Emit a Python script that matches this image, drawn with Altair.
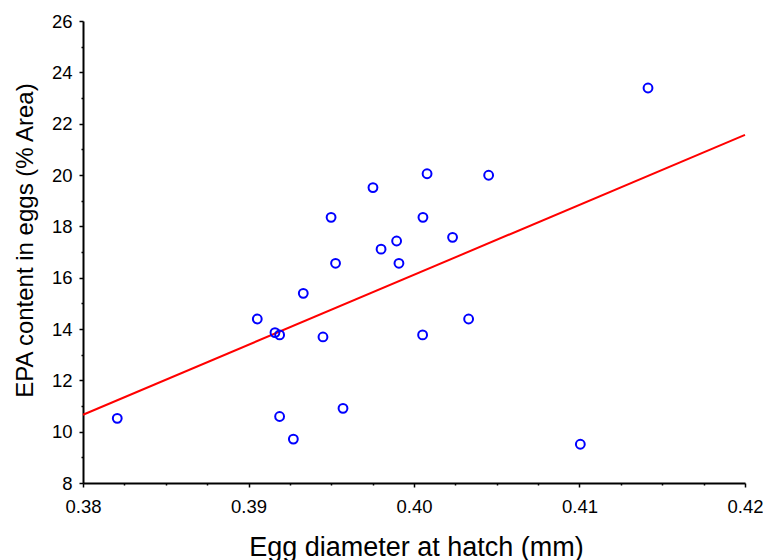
import altair as alt
import pandas as pd

# Egg diameter at hatch (mm)
diameter = [0.38207, 0.39053, 0.39160, 0.39188, 0.39188, 0.39271, 0.39331, 0.39450,
            0.39571, 0.39526, 0.39499, 0.39752, 0.39801, 0.39895, 0.39909, 0.40054,
            0.40079, 0.40451, 0.40233, 0.41414, 0.40052, 0.40330, 0.41005]
# EPA content in eggs (% Area)
epa = [10.52, 14.39, 13.86, 13.77, 10.59, 9.71, 15.39, 13.69,
       10.91, 16.56, 18.35, 19.51, 17.11, 17.43, 16.56, 18.35,
       20.05, 19.99, 17.57, 23.39, 13.77, 14.39, 9.51]

x_ticks = [0.38, 0.3825, 0.385, 0.3875, 0.39, 0.3925, 0.395, 0.3975, 0.40,
           0.4025, 0.405, 0.4075, 0.41, 0.4125, 0.415, 0.4175, 0.42]
y_ticks = [8, 9, 10, 11, 12, 13, 14, 15, 16, 17, 18, 19, 20, 21, 22, 23, 24, 25, 26]

df = pd.DataFrame({"diameter": diameter, "epa": epa})

FONT = "Liberation Sans"
x_major = "abs(datum.value*100 - round(datum.value*100)) < 0.001"
y_major = "datum.value % 2 == 0"

x_axis = alt.Axis(
    values=x_ticks,
    labelExpr=f"{x_major} ? format(datum.value, '.2f') : ''",
    tickSize={"condition": {"test": x_major, "value": 4}, "value": 2},
    tickColor="black", tickWidth=1.5,
    domainColor="black", domainWidth=2,
    grid=False, labelFlush=False, labelOverlap=False,
    labelFont=FONT, labelFontSize=18.5, labelColor="black", labelPadding=10,
    title="Egg diameter at hatch (mm)", titleFont=FONT, titleFontSize=27,
    titleFontWeight="normal", titleColor="black",
    titleX=333, titleY=72, titleBaseline="alphabetic",
)
y_axis = alt.Axis(
    values=y_ticks,
    labelExpr=f"{y_major} ? datum.value : ''",
    tickSize={"condition": {"test": y_major, "value": 4}, "value": 2},
    tickColor="black", tickWidth=1.5,
    domainColor="black", domainWidth=2,
    grid=False, labelFlush=False, labelOverlap=False,
    labelFont=FONT, labelFontSize=18.5, labelColor="black", labelPadding=7,
    title="EPA content in eggs (% Area)", titleFont=FONT, titleFontSize=24,
    titleFontWeight="normal", titleColor="black",
    titleX=-51, titleY=219, titleBaseline="alphabetic", titleAngle=-90,
)

xs = alt.Scale(domain=[0.38, 0.42], nice=False, zero=False)
ys = alt.Scale(domain=[8, 26], nice=False, zero=False)

line = alt.Chart(df).transform_regression(
    "diameter", "epa", extent=[0.38, 0.42]
).mark_line(color="#FF0000", strokeWidth=2).encode(
    x=alt.X("diameter:Q", scale=xs, axis=x_axis),
    y=alt.Y("epa:Q", scale=ys, axis=y_axis),
)

points = alt.Chart(df).mark_point(
    shape="circle", filled=False, color="#0000FF", size=78, strokeWidth=2, opacity=1
).encode(
    x=alt.X("diameter:Q", scale=xs, axis=x_axis),
    y=alt.Y("epa:Q", scale=ys, axis=y_axis),
)

chart = alt.layer(line, points).properties(
    width=662, height=462,
    autosize=alt.AutoSizeParams(type="none"),
    padding={"left": 83, "top": 21, "right": 18, "bottom": 77},
    background="white",
).configure_view(stroke=None)

chart.save("out.html", embed_options={"renderer": "svg", "actions": False})
